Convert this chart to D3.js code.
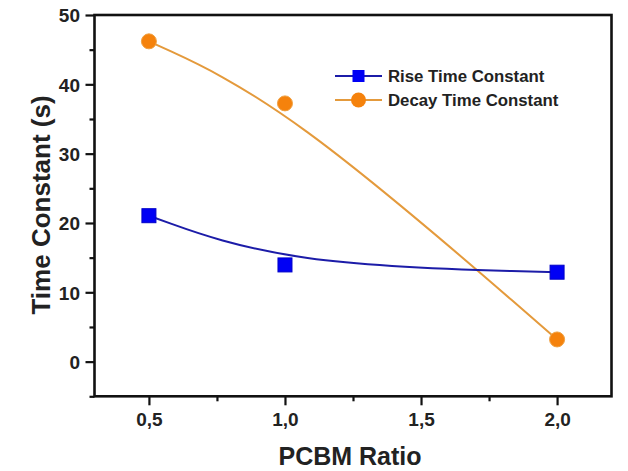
<!DOCTYPE html>
<html>
<head>
<meta charset="utf-8">
<script src="https://cdn.jsdelivr.net/npm/d3@7"></script>
<style>
  body { margin: 0; background: #fff; }
  text { font-family: "Liberation Sans", Arial, sans-serif; font-weight: bold; }
</style>
</head>
<body>
<svg id="chart" width="628" height="471"></svg>
<script>
'use strict';

const ratios = [0.5, 1.0, 2.0];
const riseValues = [21.05, 13.95, 12.9];
const decayValues = [46.2, 37.25, 3.2];
const xTicks = [0.5, 1.0, 1.5, 2.0];
const xMinorTicks = [0.75, 1.25, 1.75];
const yTicks = [0, 10, 20, 30, 40, 50];
const yMinorTicks = [-5, 5, 15, 25, 35, 45];
const seriesNames = ["Rise Time Constant", "Decay Time Constant"];

const svg = d3.select("#chart");
const m = { left: 94.5, right: 611.5, top: 15, bottom: 396.3 };

const x = d3.scaleLinear().domain([0.3, 2.2]).range([m.left, m.right]);
const y = d3.scaleLinear().domain([-5, 50]).range([m.bottom, m.top]);

const fmt = d => d3.format(".1f")(d).replace(".", ",");

// axes, major + minor ticks
const gx = svg.append("g").attr("transform", `translate(0,${m.bottom})`)
    .call(d3.axisBottom(x).tickValues(xTicks).tickFormat(fmt).tickSize(9));
const gxm = svg.append("g").attr("transform", `translate(0,${m.bottom})`)
    .call(d3.axisBottom(x).tickValues(xMinorTicks).tickFormat("").tickSize(5));
const gy = svg.append("g").attr("transform", `translate(${m.left},0)`)
    .call(d3.axisLeft(y).tickValues(yTicks).tickSize(9).tickPadding(5.5));
const gym = svg.append("g").attr("transform", `translate(${m.left},0)`)
    .call(d3.axisLeft(y).tickValues(yMinorTicks).tickFormat("").tickSize(5));

[gx, gxm, gy, gym].forEach(g => {
    g.select(".domain").remove();
    g.selectAll(".tick line").attr("stroke", "#111").attr("stroke-width", 2.2);
    g.selectAll("text").attr("fill", "#222").style("font-size", "19px");
});
gx.selectAll("text").attr("y", 30).attr("dy", 0);
gy.selectAll("text").attr("dy", "0.36em");

// frame
svg.append("rect")
    .attr("x", m.left).attr("y", m.top)
    .attr("width", m.right - m.left).attr("height", m.bottom - m.top)
    .attr("fill", "none").attr("stroke", "#111").attr("stroke-width", 2.6);

// titles
svg.append("text")
    .attr("x", 350).attr("y", 465)
    .attr("text-anchor", "middle").attr("fill", "#222")
    .style("font-size", "25px").text("PCBM Ratio");
svg.append("text")
    .attr("transform", "translate(50,205) rotate(-90)")
    .attr("text-anchor", "middle").attr("fill", "#222")
    .style("font-size", "26px").text("Time Constant (s)");

// smoothed (b-spline) curves
const rise = ratios.map((r, i) => [r, riseValues[i]]);
const decay = ratios.map((r, i) => [r, decayValues[i]]);
const line = d3.line().x(d => x(d[0])).y(d => y(d[1])).curve(d3.curveBasis);

svg.append("path").datum(decay).attr("d", line)
    .attr("fill", "none").attr("stroke", "#e49a3c").attr("stroke-width", 2);
svg.append("path").datum(rise).attr("d", line)
    .attr("fill", "none").attr("stroke", "#1c1ca8").attr("stroke-width", 2);

// markers
svg.selectAll(".sq").data(rise).join("rect")
    .attr("x", d => x(d[0]) - 7).attr("y", d => y(d[1]) - 7)
    .attr("width", 14).attr("height", 14)
    .attr("fill", "#0000f5").attr("stroke", "#0000c8").attr("stroke-width", 1);
svg.selectAll(".ci").data(decay).join("circle")
    .attr("cx", d => x(d[0])).attr("cy", d => y(d[1])).attr("r", 7.5)
    .attr("fill", "#f5820c").attr("stroke", "#f0a040").attr("stroke-width", 1);

// legend
const lg = svg.append("g").attr("transform", "translate(335,76)");
seriesNames.forEach((name, i) => {
    const g = lg.append("g").attr("transform", `translate(0,${i * 24})`);
    g.append("line").attr("x1", 0).attr("x2", 47).attr("y1", 0).attr("y2", 0)
        .attr("stroke", i ? "#e49a3c" : "#1c1ca8").attr("stroke-width", 2);
    if (i) {
        g.append("circle").attr("cx", 23.5).attr("cy", 0).attr("r", 7.5).attr("fill", "#f5820c");
    } else {
        g.append("rect").attr("x", 17.5).attr("y", -6).attr("width", 12).attr("height", 12).attr("fill", "#0000f5");
    }
    g.append("text").attr("x", 53).attr("y", 0).attr("dy", "0.36em")
        .attr("fill", "#222").style("font-size", "16.8px").text(name);
});
</script>
</body>
</html>
